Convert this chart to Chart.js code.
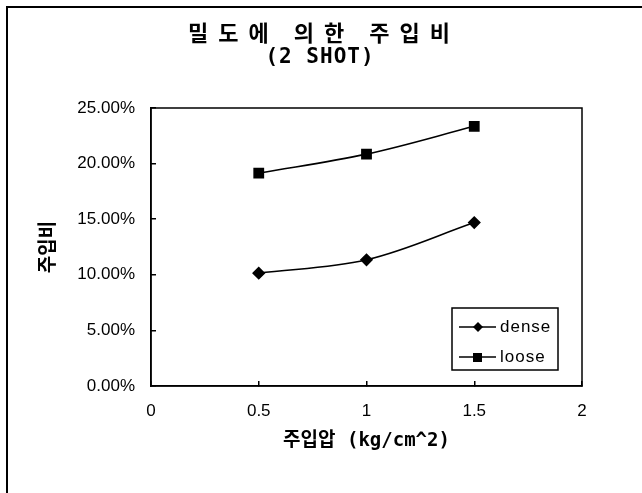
<!DOCTYPE html>
<html>
<head>
<meta charset="utf-8">
<script src="https://cdn.jsdelivr.net/npm/chart.js@4/dist/chart.umd.min.js"></script>
<style>
  html, body { margin: 0; padding: 0; background: #fff; }
  #wrap { position: relative; width: 642px; height: 493px; }
  #frame { position: absolute; left: 6px; top: 6px; width: 700px; height: 600px;
           border-left: 2px solid #000; border-top: 2px solid #000; pointer-events: none; }
  canvas { position: absolute; left: 0; top: 0; }
</style>
</head>
<body>
<div id="wrap">
  <canvas id="c" width="642" height="493"></canvas>
  <div id="frame"></div>
</div>
<script>
// Injection pressure (kg/cm^2)
const pressure = [0.5, 1, 1.5];
// Injection ratio (%) by soil density
const dense = [10.15, 11.35, 14.7];
const loose = [19.15, 20.85, 23.35];

const xTickLabels = ['0', '0.5', '1', '1.5', '2'];
const yTickLabels = ['0.00%', '5.00%', '10.00%', '15.00%', '20.00%', '25.00%'];

const titleLines = ['밀도에 의한 주입비', '(2 SHOT)'];
const seriesNames = ['dense', 'loose'];

const toPoints = (ys) => pressure.map((x, i) => ({ x: x, y: ys[i] }));

const monoKr = '"DejaVu Sans Mono", "Noto Sans CJK KR"';

// Chart title with wide letter spacing
const spacedTitle = {
  id: 'spacedTitle',
  afterDraw(chart) {
    const ctx = chart.ctx;
    ctx.save();
    ctx.fillStyle = '#000';
    ctx.textAlign = 'center';
    ctx.textBaseline = 'middle';
    ctx.font = 'bold 22px "Noto Sans CJK KR"';
    ctx.letterSpacing = '10px';
    ctx.fillText(titleLines[0], 324, 33);
    ctx.font = 'bold 21px ' + monoKr;
    ctx.letterSpacing = '1px';
    ctx.fillText(titleLines[1], 320, 58);
    ctx.restore();
  }
};

// Box around the plot area
const plotBox = {
  id: 'plotBox',
  afterDatasetsDraw(chart) {
    const { ctx, chartArea: a } = chart;
    ctx.save();
    ctx.strokeStyle = '#000';
    ctx.lineWidth = 1.5;
    ctx.strokeRect(a.left, a.top, a.right - a.left, a.bottom - a.top);
    ctx.restore();
  }
};

// Boxed legend placed inside the lower right of the plot
const boxLegend = {
  id: 'boxLegend',
  afterDraw(chart) {
    const ctx = chart.ctx;
    const x0 = 452, y0 = 308, w = 106, h = 62;
    ctx.save();
    ctx.fillStyle = '#fff';
    ctx.fillRect(x0, y0, w, h);
    ctx.strokeStyle = '#000';
    ctx.lineWidth = 1.5;
    ctx.strokeRect(x0, y0, w, h);
    chart.data.datasets.forEach((ds, i) => {
      const cy = y0 + 19 + i * 30;
      ctx.strokeStyle = '#000';
      ctx.lineWidth = 1.5;
      ctx.beginPath();
      ctx.moveTo(x0 + 7, cy);
      ctx.lineTo(x0 + 44, cy);
      ctx.stroke();
      ctx.fillStyle = '#000';
      if (ds.pointStyle === 'rect') {
        ctx.fillRect(x0 + 21, cy - 4, 9, 9);
      } else {
        ctx.beginPath();
        ctx.moveTo(x0 + 26, cy - 5);
        ctx.lineTo(x0 + 31, cy);
        ctx.lineTo(x0 + 26, cy + 5);
        ctx.lineTo(x0 + 21, cy);
        ctx.closePath();
        ctx.fill();
      }
      ctx.font = '17px "Liberation Sans"';
      ctx.letterSpacing = '1px';
      ctx.textAlign = 'left';
      ctx.textBaseline = 'middle';
      ctx.fillText(ds.label, x0 + 48, cy);
    });
    ctx.restore();
  }
};

new Chart(document.getElementById('c'), {
  type: 'line',
  data: {
    datasets: [
      {
        label: seriesNames[0],
        data: toPoints(dense),
        borderColor: '#000',
        backgroundColor: '#000',
        borderWidth: 1.6,
        pointStyle: 'rectRot',
        pointRadius: 5.5,
        tension: 0.35
      },
      {
        label: seriesNames[1],
        data: toPoints(loose),
        borderColor: '#000',
        backgroundColor: '#000',
        borderWidth: 1.6,
        pointStyle: 'rect',
        pointRadius: 6.5,
        tension: 0.35
      }
    ]
  },
  options: {
    responsive: false,
    animation: false,
    layout: { padding: { left: 0, right: 60, top: 108, bottom: 0 } },
    plugins: {
      legend: { display: false },
      title: { display: false },
      tooltip: { enabled: false }
    },
    scales: {
      x: {
        type: 'linear',
        min: 0,
        max: 2,
        afterBuildTicks(scale) {
          scale.ticks = xTickLabels.map((_, i) => ({ value: i * 0.5 }));
        },
        afterFit(scale) { scale.height = 107; },
        grid: { drawOnChartArea: false, drawTicks: true, tickLength: -5, color: '#000', lineWidth: 1.5 },
        border: { display: true, color: '#000', width: 1.5 },
        ticks: {
          color: '#000',
          font: { family: '"Liberation Sans"', size: 17 },
          padding: 20,
          maxRotation: 0,
          callback: (v, i) => xTickLabels[i]
        },
        title: {
          display: true,
          text: '주입압 (kg/cm^2)',
          color: '#000',
          font: { family: monoKr, size: 19, weight: 'bold', lineHeight: 1.2 },
          padding: { top: 0, bottom: 41 }
        }
      },
      y: {
        min: 0,
        max: 25,
        afterBuildTicks(scale) {
          scale.ticks = yTickLabels.map((_, i) => ({ value: i * 5 }));
        },
        afterFit(scale) { scale.width = 151; },
        grid: { drawOnChartArea: false, drawTicks: true, tickLength: -5, color: '#000', lineWidth: 1.5 },
        border: { display: true, color: '#000', width: 1.5 },
        ticks: {
          color: '#000',
          font: { family: '"Liberation Sans"', size: 17 },
          padding: 21,
          callback: (v, i) => yTickLabels[i]
        },
        title: {
          display: true,
          text: '주입비',
          color: '#000',
          font: { family: '"Noto Sans CJK KR"', size: 19, weight: 'bold', lineHeight: 1.2 },
          padding: { top: 35, bottom: 0 }
        }
      }
    }
  },
  plugins: [spacedTitle, plotBox, boxLegend]
});
</script>
</body>
</html>
